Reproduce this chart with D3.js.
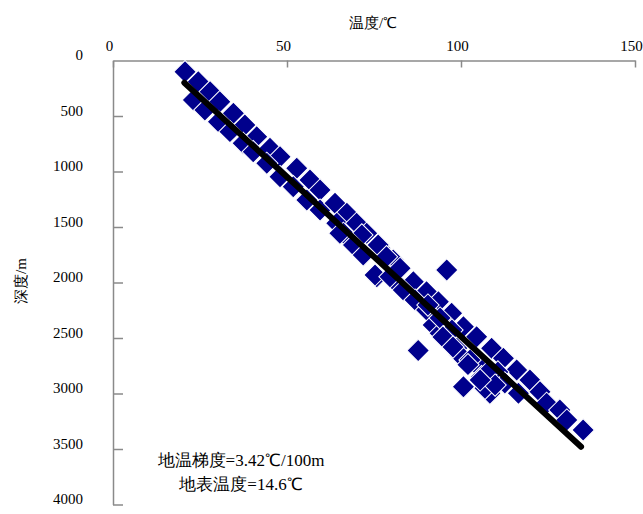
<!DOCTYPE html>
<html>
<head>
<meta charset="utf-8">
<script src="https://cdn.jsdelivr.net/npm/d3@7"></script>
<style>
  body { margin: 0; background: #fff; }
</style>
</head>
<body>
<div id="chart"></div>
<script>
// temperature (°C) and depth (m) of each measurement
var temps = [20.7, 24.5, 27.9, 23.1, 30.7, 26.4, 34.6, 30.3, 37.9, 33.6,
             41.3, 37.4, 40.3, 45.1, 48.0, 44.2, 48.0, 52.8, 56.6, 59.5,
             51.8, 55.7, 59.5, 63.8, 67.2, 64.3, 70.0, 66.2, 72.9, 70.0,
             76.7, 80.5, 75.8, 81.5, 65.2, 71.5, 69.1, 76.2, 71.9, 78.6,
             75.3, 79.6, 82.5, 95.9, 86.3, 83.4, 90.1, 86.8, 93.5, 90.1,
             97.3, 92.0, 100.7, 94.0, 104.5, 95.9, 98.8, 87.7, 99.7, 108.8,
             105.5, 112.2, 105.9, 109.3, 116.0, 119.8, 108.3, 100.7, 116.5, 122.7,
             124.6, 128.4, 130.4, 135.1, 106.9, 110.6, 102.6, 94.0, 90.5, 97.4,
             112.6, 94.8, 97.7, 102.0, 107.4, 109.8, 105.5];
var depths = [101, 191, 281, 356, 371, 446, 476, 551, 581, 641,
              686, 746, 822, 791, 867, 926, 1047, 971, 1077, 1167,
              1137, 1257, 1347, 1286, 1377, 1467, 1467, 1557, 1557, 1677,
              1692, 1797, 1948, 2007, 1557, 1572, 1662, 1662, 1752, 1768,
              1932, 1948, 1872, 1887, 1993, 2068, 2083, 2158, 2173, 2248,
              2277, 2383, 2398, 2458, 2488, 2518, 2593, 2613, 2653, 2593,
              2773, 2683, 2849, 2894, 2788, 2878, 2998, 2939, 2998, 2984,
              3088, 3149, 3239, 3329, 2953, 2806, 2698, 2320, 2203, 2428,
              2905, 2491, 2581, 2740, 2818, 2924, 2878];

// fitted line end points [temp, depth]
var trendLine = [[20.5, 200], [134.5, 3480]];

var xTicks = [0, 50, 100, 150];
var yTicks = [0, 500, 1000, 1500, 2000, 2500, 3000, 3500, 4000];
var notes = ["地温梯度=3.42℃/100m", "地表温度=14.6℃"];

var font = "'Liberation Serif', 'Times New Roman', serif";
var width = 643, height = 514;
var margin = {top: 60.5, left: 113, right: 8, bottom: 9.5};

var svg = d3.select("#chart").append("svg")
    .attr("width", width)
    .attr("height", height);

var x = d3.scaleLinear().domain([0, 150]).range([margin.left, width - margin.right]);
var y = d3.scaleLinear().domain([0, 4000]).range([margin.top, height - margin.bottom]);

// top axis (temperature)
var xAxis = svg.append("g")
    .attr("transform", "translate(0," + margin.top + ")")
    .call(d3.axisBottom(x).tickValues(xTicks).tickSize(7).tickSizeOuter(0).tickFormat(d3.format("d")));
xAxis.attr("font-family", null);
xAxis.select(".domain").attr("stroke", "#8a8a8a").attr("stroke-width", 1.5);
xAxis.selectAll(".tick line").attr("stroke", "#8a8a8a").attr("stroke-width", 1.5);
xAxis.selectAll(".tick text")
    .attr("y", -10).attr("dy", 0).attr("dx", -4)
    .style("font-family", font)
    .style("font-size", "15px");

// left axis (depth)
var yAxis = svg.append("g")
    .attr("transform", "translate(" + margin.left + ",0)")
    .call(d3.axisRight(y).tickValues(yTicks).tickSize(10).tickSizeOuter(0).tickFormat(d3.format("d")));
yAxis.attr("font-family", null);
yAxis.select(".domain").attr("stroke", "#8a8a8a").attr("stroke-width", 1.5);
yAxis.selectAll(".tick line").attr("stroke", "#8a8a8a").attr("stroke-width", 1.5)
    .attr("display", function(d){ return d === 0 ? "none" : null; });
yAxis.selectAll(".tick text")
    .attr("x", -30).attr("dy", "-0.05em")
    .attr("text-anchor", "end")
    .style("font-family", font)
    .style("font-size", "15px");

// points
var square = d3.symbol().type(d3.symbolSquare).size(250);
svg.append("g").selectAll("path")
    .data(d3.range(temps.length))
    .enter().append("path")
    .attr("d", square)
    .attr("transform", function(i){ return "translate(" + x(temps[i]) + "," + y(depths[i]) + ")rotate(45)"; })
    .attr("fill", "#00008c")
    .attr("stroke", "#fff")
    .attr("stroke-width", 1);

// trend line
svg.append("path")
    .datum(trendLine)
    .attr("d", d3.line().x(function(d){ return x(d[0]); }).y(function(d){ return y(d[1]); }))
    .attr("stroke", "#000")
    .attr("stroke-width", 6)
    .attr("stroke-linecap", "round")
    .attr("fill", "none");

// titles
svg.append("text")
    .attr("x", 373).attr("y", 28)
    .attr("text-anchor", "middle")
    .style("font-family", font)
    .style("font-size", "15px")
    .text("温度/℃");

svg.append("text")
    .attr("transform", "translate(26,281)rotate(-90)")
    .attr("text-anchor", "middle")
    .style("font-family", font)
    .style("font-size", "15px")
    .text("深度/m");

svg.selectAll(".note")
    .data(notes)
    .enter().append("text")
    .attr("class", "note")
    .attr("x", 241)
    .attr("y", function(d, i){ return 466 + i * 24; })
    .attr("text-anchor", "middle")
    .style("font-family", font)
    .style("font-size", "17px")
    .text(function(d){ return d; });
</script>
</body>
</html>
